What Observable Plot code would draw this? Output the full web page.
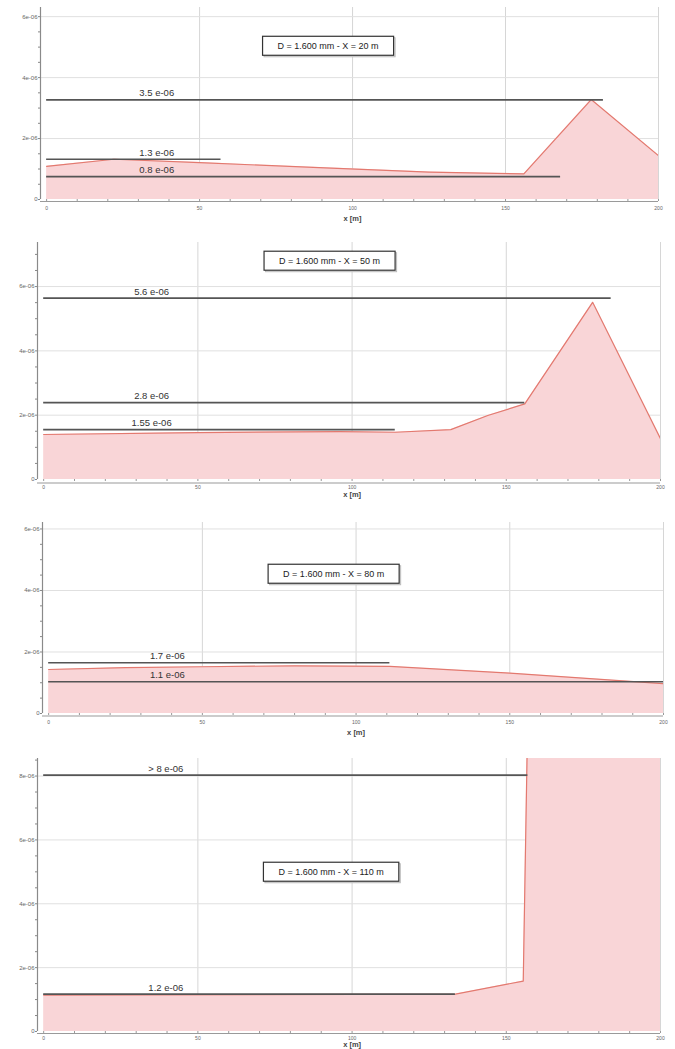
<!DOCTYPE html>
<html>
<head>
<meta charset="utf-8">
<script src="https://cdn.jsdelivr.net/npm/d3@7"></script>
<script src="https://cdn.jsdelivr.net/npm/@observablehq/plot@0.6"></script>
<style>
  body { margin: 0; background: #fff; font-family: "Liberation Sans", Arial, sans-serif; }
  #charts svg { display: block; }
</style>
</head>
<body>
<div id="charts"></div>
<script>
const E = 1e-6;

// ---- Panel 1: X = 20 m ----
const posX20 = [0, 22, 50, 93, 125, 156, 178, 200];
const conc20 = [1.09, 1.32, 1.21, 1.03, 0.90, 0.84, 3.28, 1.44];
const thrValue20 = [3.27, 1.32, 0.75];
const thrEnd20 = [182, 57, 168];
const thrLabel20 = ["3.5 e-06", "1.3 e-06", "0.8 e-06"];

// ---- Panel 2: X = 50 m ----
const posX50 = [0, 50, 96, 114, 132, 144, 156, 178, 200];
const conc50 = [1.40, 1.46, 1.49, 1.47, 1.55, 1.99, 2.35, 5.51, 1.27];
const thrValue50 = [5.64, 2.39, 1.55];
const thrEnd50 = [184, 156, 114];
const thrLabel50 = ["5.6 e-06", "2.8 e-06", "1.55 e-06"];

// ---- Panel 3: X = 80 m ----
const posX80 = [0, 25, 50, 80, 111, 150, 200];
const conc80 = [1.43, 1.49, 1.52, 1.55, 1.53, 1.31, 0.97];
const thrValue80 = [1.65, 1.03];
const thrEnd80 = [111, 200];
const thrLabel80 = ["1.7 e-06", "1.1 e-06"];

// ---- Panel 4: X = 110 m ----
const posX110 = [0, 133.5, 155.5, 156.8, 200];
const conc110 = [1.14, 1.17, 1.58, 9.0, 9.0];
const thrValue110 = [8.03, 1.17];
const thrEnd110 = [157, 133.5];
const thrLabel110 = ["> 8 e-06", "1.2 e-06"];

// titles and their anchor (data units)
const titles = ["D = 1.600 mm - X = 20 m", "D = 1.600 mm - X = 50 m", "D = 1.600 mm - X = 80 m", "D = 1.600 mm - X = 110 m"];
const titleX = [92, 92.7, 92.7, 93.2];
const titleY = [5.04, 6.8, 4.54, 5.0];
const labelX = [36, 35, 38.6, 39.6];

const xMajor = [0, 50, 100, 150, 200];
const xLabel = "x [m]";

const panels = [
  {x: posX20, c: conc20, tv: thrValue20, te: thrEnd20, tl: thrLabel20},
  {x: posX50, c: conc50, tv: thrValue50, te: thrEnd50, tl: thrLabel50},
  {x: posX80, c: conc80, tv: thrValue80, te: thrEnd80, tl: thrLabel80},
  {x: posX110, c: conc110, tv: thrValue110, te: thrEnd110, tl: thrLabel110}
];

// layout (pixels) per panel
const layout = [
  {h: 228, mt: 7,  mb: 29, ml: 40, mr: 17, yTop: 6.3,  axDy: 2,   tick: 7, lab: 21},
  {h: 272, mt: 14, mb: 21, ml: 37, mr: 15, yTop: 7.37, axDy: 3.5, tick: 6, lab: 17.5},
  {h: 240, mt: 22, mb: 27, ml: 42, mr: 12, yTop: 6.21, axDy: 2.5, tick: 7, lab: 21},
  {h: 309, mt: 18, mb: 18, ml: 37, mr: 15, yTop: 8.55, axDy: 2,   tick: 5, lab: 15}
];

const font = "Liberation Sans, Arial, sans-serif";

function makePanel(p, L, i) {
  const profile = p.x.map((x, j) => ({x, c: p.c[j] * E}));
  const thr = p.tv.map((v, j) => ({v: v * E, end: p.te[j], label: p.tl[j]}));
  const nMaj = Math.floor(L.yTop / 2 + 1e-9);
  const majors = d3.range(1, nMaj + 1).map(k => k * 2 * E);
  const nMin = Math.floor(L.yTop / 0.5 + 1e-9);
  const minors = d3.range(0, nMin + 1).map(k => k * 0.5 * E);
  const yFmt = d => {
    const k = Math.round(d / E / 0.5);
    if (k % 4 !== 0) return "";
    return k === 0 ? "0" : `${k / 2}e-06`;
  };
  return Plot.plot({
    width: 675, height: L.h,
    marginTop: L.mt, marginBottom: L.mb, marginLeft: L.ml, marginRight: L.mr,
    x: {domain: [-2, 200]},
    y: {domain: [0, L.yTop * E]},
    style: {fontFamily: font, background: "white", overflow: "visible"},
    marks: [
      Plot.gridX(xMajor.slice(1), {stroke: "#d6d6d6", strokeOpacity: 1}),
      Plot.gridY(majors, {stroke: "#e0e0e0", strokeOpacity: 1}),
      Plot.areaY(profile, {x: "x", y: "c", fill: "#f9d5d7", clip: true}),
      Plot.lineY(profile, {x: "x", y: "c", stroke: "#e3796f", strokeWidth: 1.2, clip: true}),
      Plot.ruleY(thr, {x1: () => 0, x2: "end", y: "v", stroke: "#555", strokeWidth: 1.6}),
      Plot.text(thr, {x: () => labelX[i], y: "v", text: "label", dy: -6.5, fontSize: 9.5, fill: "#333"}),
      Plot.ruleX([-2], {stroke: "#8a8a8a", strokeWidth: 1.2}),
      Plot.ruleY([0], {stroke: "#9a9a9a", strokeWidth: 1.2, dy: L.axDy}),
      Plot.axisY(minors, {anchor: "left", tickSize: 2, tickPadding: 1, tickFormat: yFmt,
        fontSize: 6, fill: "#666", stroke: "#888", label: null}),
      Plot.axisX(d3.range(0, 201, 10), {anchor: "bottom", tickSize: 2, tickPadding: L.tick - 2,
        tickFormat: d => (d % 50 === 0 ? String(d) : ""), fontSize: 5, fill: "#666", stroke: "#999", label: null}),
      Plot.text([xLabel], {x: () => 100, frameAnchor: "bottom", dy: L.lab, text: d => d,
        fontSize: 7.5, fontWeight: "bold", fill: "#444"}),
      Plot.text([{t: titles[i], x: titleX[i], y: titleY[i] * E}], {x: "x", y: "y", text: "t",
        fontSize: 9, fill: "#222", className: "anno"})
    ]
  });
}

const root = document.getElementById("charts");
const ns = "http://www.w3.org/2000/svg";
panels.forEach((p, i) => {
  const svg = makePanel(p, layout[i], i);
  root.appendChild(svg);
  const t = svg.querySelector(".anno text");
  if (t) {
    const bb = t.getBBox();
    const w = bb.width + 30, h = 19;
    const cx = bb.x + bb.width / 2, cy = bb.y + bb.height / 2;
    const tr = t.getAttribute("transform");
    const mk = (dx, dy, stroke, fill, sw) => {
      const r = document.createElementNS(ns, "rect");
      r.setAttribute("x", cx - w / 2 + dx);
      r.setAttribute("y", cy - h / 2 + dy);
      r.setAttribute("width", w);
      r.setAttribute("height", h);
      r.setAttribute("fill", fill);
      r.setAttribute("stroke", stroke);
      r.setAttribute("stroke-width", sw);
      if (tr) r.setAttribute("transform", tr);
      return r;
    };
    t.parentNode.insertBefore(mk(1.5, 1.5, "#bbb", "#eee", 1), t);
    t.parentNode.insertBefore(mk(0, 0, "#333", "#fff", 1.2), t);
  }
});
</script>
</body>
</html>
